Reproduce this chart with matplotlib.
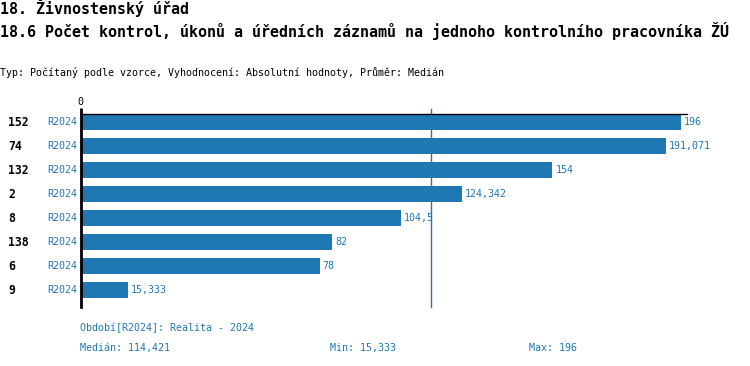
import matplotlib
matplotlib.use('Agg')
import matplotlib.pyplot as plt

# data
ids = ['152', '74', '132', '2', '8', '138', '6', '9']
periods = ['R2024'] * 8
values = [196, 191.071, 154, 124.342, 104.5, 82, 78, 15.333]
median = 114.421
v_min = 15.333
v_max = 196

BLUE = '#1f77b4'
FONT = 'DejaVu Sans Mono'
W, H = 750, 366

def fmt(v):
    s = ('%.3f' % v).rstrip('0').rstrip('.')
    return s.replace('.', ',')

def px(x, y):
    # pixel coords (from top-left) -> figure fraction
    return x / W, 1 - y / H

def main():
    plt.rcParams['font.family'] = FONT
    fig = plt.figure(figsize=(W / 100, H / 100), dpi=100)
    ax_l, ax_r, ax_t, ax_b = 81, 687, 114, 307
    ax = fig.add_axes([ax_l / W, 1 - ax_b / H, (ax_r - ax_l) / W, (ax_b - ax_t) / H])

    ys = list(range(len(values)))
    ax.barh(ys, values, height=0.667, color=BLUE)
    ax.set_xlim(0, v_max * (ax_r - ax_l) / 600)
    ax.set_ylim(len(values) - 0.3, -0.333)

    for s in ['right', 'bottom']:
        ax.spines[s].set_visible(False)
    ax.spines['top'].set_linewidth(1)
    ax.spines['left'].set_linewidth(2)
    ax.set_xticks([])
    ax.set_yticks([])
    # left axis goes a bit above the plot
    ax.plot([0, 0], [1, 1.032], transform=ax.transAxes, color='black', lw=2,
            clip_on=False, solid_capstyle='butt')
    ax.axvline(median, ymin=0, ymax=1.026, color=BLUE, lw=1, clip_on=False)

    for y, v in zip(ys, values):
        ax.text(v + 1.0, y, fmt(v), color=BLUE, fontsize=7.2, va='center', ha='left')
    for y, i, p in zip(ys, ids, periods):
        yy = ax.transData.transform((0, y))[1] / H
        fig.text(8 / W, yy, i, fontsize=8.3, fontweight='bold', va='center', ha='left')
        fig.text(77 / W, yy, p, fontsize=7.2, color=BLUE, va='center', ha='right')

    fig.text(*px(80, 102), '0', fontsize=7.2, ha='center', va='center')

    fig.text(*px(0, 8), '18. Živnostenský úřad', fontsize=10.8, fontweight='bold', va='center')
    fig.text(*px(0, 31), '18.6 Počet kontrol, úkonů a úředních záznamů na jednoho kontrolního pracovníka ŽÚ',
             fontsize=10.8, fontweight='bold', va='center')
    fig.text(*px(0, 73), 'Typ: Počítaný podle vzorce, Vyhodnocení: Absolutní hodnoty, Průměr: Medián',
             fontsize=7.2, va='center')

    fig.text(*px(80, 328), 'Období[R2024]: Realita - 2024', fontsize=7.2, color=BLUE, va='center')
    fig.text(*px(80, 348), 'Medián: ' + fmt(median), fontsize=7.2, color=BLUE, va='center')
    fig.text(*px(330, 348), 'Min: ' + fmt(v_min), fontsize=7.2, color=BLUE, va='center')
    fig.text(*px(529, 348), 'Max: ' + fmt(v_max), fontsize=7.2, color=BLUE, va='center')

    fig.savefig('out.png', dpi=100)

if __name__ == '__main__':
    main()
